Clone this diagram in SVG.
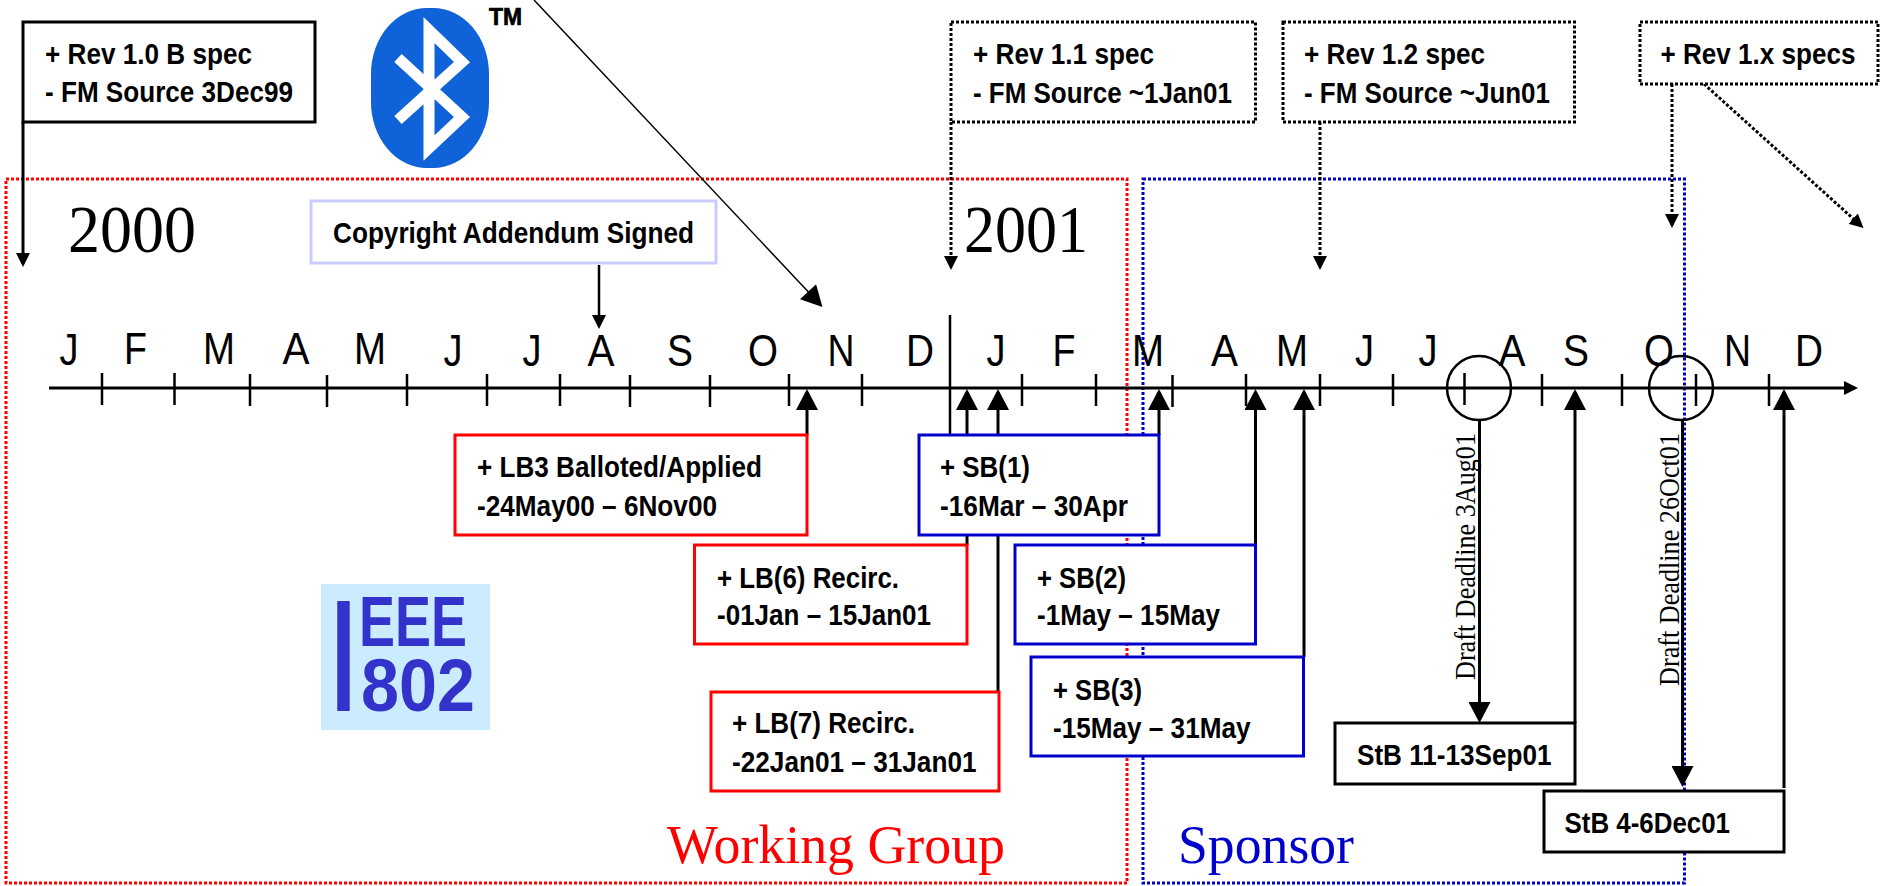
<svg xmlns="http://www.w3.org/2000/svg" width="1881" height="886" viewBox="0 0 1881 886">
<style>
.t{font-family:"Liberation Sans",Arial,sans-serif;font-weight:700;font-size:30px;fill:#000}
.m{font-family:"Liberation Sans",Arial,sans-serif;font-size:45px;fill:#000;text-anchor:middle}
.s{font-family:"Liberation Serif","Times New Roman",serif}
.box{fill:#fff;stroke-width:3}
.k{stroke:#000}.r{stroke:#f00}.b{stroke:#00c}
.d{fill:#fff;stroke:#000;stroke-width:3;stroke-dasharray:3 2}
.c{fill:none;stroke:#000;stroke-width:3}
.dc{fill:none;stroke:#000;stroke-width:3;stroke-dasharray:3 2}
.tick{stroke:#000;stroke-width:2.5}
</style>
<defs>
<marker id="big" markerUnits="userSpaceOnUse" markerWidth="22" markerHeight="22" viewBox="0 0 21 22" refX="18" refY="11" orient="auto"><path d="M0,0L21,11L0,22Z" fill="#000"/></marker>
<marker id="small" markerUnits="userSpaceOnUse" markerWidth="14" markerHeight="14" viewBox="0 0 14 14" refX="11" refY="7" orient="auto"><path d="M0,0L14,7L0,14Z" fill="#000"/></marker>
</defs>
<rect width="1881" height="886" fill="#fff"/>
<g id="regions" fill="none" stroke-width="3" stroke-dasharray="3 2">
<rect id="working-group-region" x="6" y="179" width="1121" height="704" stroke="#f00"/>
<rect id="sponsor-region" x="1143" y="179" width="541.500" height="704" stroke="#00c"/>
</g>
<g id="logo-bluetooth">
<rect x="371" y="8" width="118" height="160" rx="56" ry="66" fill="#0f62d8"/>
<path d="M398,58L462,117L429,148V30L462,62L398,120" fill="none" stroke="#fff" stroke-width="11"/>
<text x="489" y="25" textLength="33" lengthAdjust="spacingAndGlyphs" stroke="#000" stroke-width="0.700" style="font-family:'Liberation Sans',Arial,sans-serif;font-weight:700;font-size:24px">TM</text>
</g>
<g id="logo-ieee">
<rect x="321" y="584" width="169" height="146" fill="#cbebff"/>
<g style="font-family:'Liberation Sans',Arial,sans-serif;font-weight:700" fill="#33c">
<text x="343.500" y="711" text-anchor="middle" textLength="24" lengthAdjust="spacingAndGlyphs" font-size="160">I</text>
<text x="359" y="646" textLength="108" lengthAdjust="spacingAndGlyphs" font-size="71">EEE</text>
<text x="361" y="711" textLength="114" lengthAdjust="spacingAndGlyphs" font-size="74">802</text>
</g>
</g>
<g id="years-and-labels">
<text class="s" x="68" y="252" font-size="67" textLength="128" lengthAdjust="spacingAndGlyphs">2000</text>
<text class="s" x="964" y="252" font-size="67" textLength="124" lengthAdjust="spacingAndGlyphs">2001</text>
<text class="s" x="667" y="863" font-size="54" fill="#f00" textLength="338" lengthAdjust="spacingAndGlyphs">Working Group</text>
<text class="s" x="1178" y="863" font-size="54" fill="#00c" textLength="176" lengthAdjust="spacingAndGlyphs">Sponsor</text>
</g>
<g id="timeline">
<path class="c" d="M49,388H1855" marker-end="url(#small)"/>
<path class="tick" d="M102,373V405M174.500,373V405M250,374V406M327,375V407M407,374V406M487,374V406M560,374V406M630,375V407M710,375V407M789,374V406M862,374V406M950,315V437M1022,374V406M1096,374V406M1172.500,375V407M1246,374V406M1320,374V406M1393,374V406M1464.500,373V405M1542,374V406M1622,374V406M1696,374V406M1769,374V406"/>
<g class="months">
<text class="m" x="69" y="365" textLength="19" lengthAdjust="spacingAndGlyphs">J</text>
<text class="m" x="135.500" y="364" textLength="23" lengthAdjust="spacingAndGlyphs">F</text>
<text class="m" x="219" y="364" textLength="32" lengthAdjust="spacingAndGlyphs">M</text>
<text class="m" x="296" y="364" textLength="27" lengthAdjust="spacingAndGlyphs">A</text>
<text class="m" x="370" y="364" textLength="32" lengthAdjust="spacingAndGlyphs">M</text>
<text class="m" x="453" y="366" textLength="19" lengthAdjust="spacingAndGlyphs">J</text>
<text class="m" x="532" y="366" textLength="19" lengthAdjust="spacingAndGlyphs">J</text>
<text class="m" x="601" y="366" textLength="27" lengthAdjust="spacingAndGlyphs">A</text>
<text class="m" x="680" y="366" textLength="26" lengthAdjust="spacingAndGlyphs">S</text>
<text class="m" x="763" y="366" textLength="30" lengthAdjust="spacingAndGlyphs">O</text>
<text class="m" x="841" y="366" textLength="27" lengthAdjust="spacingAndGlyphs">N</text>
<text class="m" x="920" y="366" textLength="28" lengthAdjust="spacingAndGlyphs">D</text>
<text class="m" x="996" y="366" textLength="19" lengthAdjust="spacingAndGlyphs">J</text>
<text class="m" x="1064" y="366" textLength="23" lengthAdjust="spacingAndGlyphs">F</text>
<text class="m" x="1148" y="366" textLength="32" lengthAdjust="spacingAndGlyphs">M</text>
<text class="m" x="1224.500" y="366" textLength="27" lengthAdjust="spacingAndGlyphs">A</text>
<text class="m" x="1292" y="366" textLength="32" lengthAdjust="spacingAndGlyphs">M</text>
<text class="m" x="1364.500" y="366" textLength="19" lengthAdjust="spacingAndGlyphs">J</text>
<text class="m" x="1428" y="366" textLength="19" lengthAdjust="spacingAndGlyphs">J</text>
<text class="m" x="1512" y="366" textLength="27" lengthAdjust="spacingAndGlyphs">A</text>
<text class="m" x="1576" y="366" textLength="26" lengthAdjust="spacingAndGlyphs">S</text>
<text class="m" x="1659" y="366" textLength="30" lengthAdjust="spacingAndGlyphs">O</text>
<text class="m" x="1737.500" y="366" textLength="27" lengthAdjust="spacingAndGlyphs">N</text>
<text class="m" x="1809" y="366" textLength="28" lengthAdjust="spacingAndGlyphs">D</text>
</g>
<ellipse cx="1479" cy="388" rx="32" ry="32" fill="none" stroke="#000" stroke-width="2.500"/>
<ellipse cx="1681" cy="388" rx="32" ry="32" fill="none" stroke="#000" stroke-width="2.500"/>
</g>
<g id="draft-deadline-labels">
<text class="s" transform="translate(1475,680) rotate(-90) scale(1,1.1)" font-size="26" textLength="247" lengthAdjust="spacingAndGlyphs">Draft Deadline 3Aug01</text>
<text class="s" transform="translate(1679,686) rotate(-90) scale(1,1.1)" font-size="26" textLength="253" lengthAdjust="spacingAndGlyphs">Draft Deadline 26Oct01</text>
</g>
<g id="connectors">
<path class="c" d="M23,122V264" marker-end="url(#small)"/>
<path class="c" style="stroke-width:1.500" d="M534,0L820.400,304.800" marker-end="url(#big)"/>
<path class="c" style="stroke-width:2.500" d="M599,265V326" marker-end="url(#small)"/>
<path class="c" d="M807,435V392" marker-end="url(#big)"/>
<path class="c" d="M967,545V392" marker-end="url(#big)"/>
<path class="c" d="M998,692V392" marker-end="url(#big)"/>
<path class="c" d="M1159,435V392" marker-end="url(#big)"/>
<path class="c" d="M1255.500,545V392" marker-end="url(#big)"/>
<path class="c" d="M1304,657V392" marker-end="url(#big)"/>
<path class="c" d="M1575,723V392" marker-end="url(#big)"/>
<path class="c" d="M1784,788V392" marker-end="url(#big)"/>
<path class="c" d="M1479.500,420V720" marker-end="url(#big)"/>
<path class="c" d="M1682.500,420V784" marker-end="url(#big)"/>
<path class="dc" d="M951,122V267" marker-end="url(#small)"/>
<path class="dc" d="M1320,122V267" marker-end="url(#small)"/>
<path class="dc" d="M1672,84V225" marker-end="url(#small)"/>
<path class="dc" d="M1704,84L1861.300,226" marker-end="url(#small)"/>
</g>
<g id="rev-1-0"><rect class="box k" x="23" y="22" width="292" height="100"/><text class="t" x="45" y="64" textLength="207" lengthAdjust="spacingAndGlyphs">+ Rev 1.0 B spec</text><text class="t" x="45" y="102" textLength="248" lengthAdjust="spacingAndGlyphs">- FM Source 3Dec99</text></g>
<g id="rev-1-1"><rect class="d" x="951" y="22" width="304.500" height="100"/><text class="t" x="973" y="64" textLength="181" lengthAdjust="spacingAndGlyphs">+ Rev 1.1 spec</text><text class="t" x="973" y="103" textLength="259" lengthAdjust="spacingAndGlyphs">- FM Source ~1Jan01</text></g>
<g id="rev-1-2"><rect class="d" x="1283" y="22" width="291.500" height="100"/><text class="t" x="1304" y="64" textLength="181" lengthAdjust="spacingAndGlyphs">+ Rev 1.2 spec</text><text class="t" x="1304" y="103" textLength="246" lengthAdjust="spacingAndGlyphs">- FM Source ~Jun01</text></g>
<g id="rev-1-x"><rect class="d" x="1640" y="22" width="238" height="62"/><text class="t" x="1660.500" y="64" textLength="195" lengthAdjust="spacingAndGlyphs">+ Rev 1.x specs</text></g>
<g id="copyright"><rect x="311" y="201" width="405" height="62" fill="#fff" stroke="#ccf" stroke-width="3"/><text class="t" x="333" y="243" textLength="361" lengthAdjust="spacingAndGlyphs">Copyright Addendum Signed</text></g>
<g id="lb3"><rect class="box r" x="455" y="435" width="352" height="100"/><text class="t" x="477" y="477" textLength="285" lengthAdjust="spacingAndGlyphs">+ LB3 Balloted/Applied</text><text class="t" x="477" y="516" textLength="240" lengthAdjust="spacingAndGlyphs">-24May00 – 6Nov00</text></g>
<g id="lb6"><rect class="box r" x="694.500" y="545" width="272.500" height="99"/><text class="t" x="717" y="588" textLength="182" lengthAdjust="spacingAndGlyphs">+ LB(6) Recirc.</text><text class="t" x="717" y="625" textLength="214" lengthAdjust="spacingAndGlyphs">-01Jan – 15Jan01</text></g>
<g id="lb7"><rect class="box r" x="711" y="692" width="288" height="99"/><text class="t" x="732" y="733" textLength="183" lengthAdjust="spacingAndGlyphs">+ LB(7) Recirc.</text><text class="t" x="732" y="772" textLength="244.500" lengthAdjust="spacingAndGlyphs">-22Jan01 – 31Jan01</text></g>
<g id="sb1"><rect class="box b" x="919" y="435" width="240" height="100"/><text class="t" x="940" y="477" textLength="90" lengthAdjust="spacingAndGlyphs">+ SB(1)</text><text class="t" x="940" y="516" textLength="188" lengthAdjust="spacingAndGlyphs">-16Mar – 30Apr</text></g>
<g id="sb2"><rect class="box b" x="1015" y="545" width="240.500" height="99"/><text class="t" x="1037" y="588" textLength="89" lengthAdjust="spacingAndGlyphs">+ SB(2)</text><text class="t" x="1037" y="625" textLength="183" lengthAdjust="spacingAndGlyphs">-1May – 15May</text></g>
<g id="sb3"><rect class="box b" x="1031" y="657" width="272.500" height="99"/><text class="t" x="1053" y="700" textLength="89" lengthAdjust="spacingAndGlyphs">+ SB(3)</text><text class="t" x="1053" y="738" textLength="197.500" lengthAdjust="spacingAndGlyphs">-15May – 31May</text></g>
<g id="stb-sep"><rect class="box k" x="1335" y="723" width="240" height="61"/><text class="t" x="1357" y="765" textLength="194.500" lengthAdjust="spacingAndGlyphs">StB 11-13Sep01</text></g>
<g id="stb-dec"><rect class="box k" x="1544" y="791" width="240" height="61"/><text class="t" x="1564.500" y="833" textLength="165.500" lengthAdjust="spacingAndGlyphs">StB 4-6Dec01</text></g>
</svg>
